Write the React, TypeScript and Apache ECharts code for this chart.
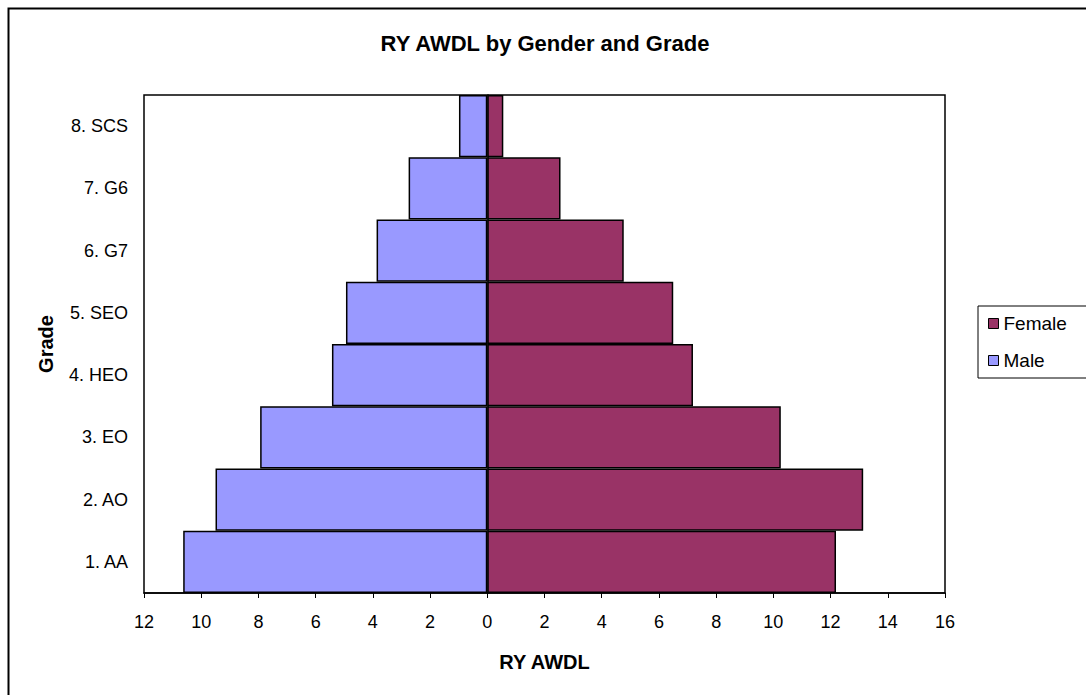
import React, { useEffect, useRef } from "react";
import * as echarts from "echarts";

const categories = ["1. AA", "2. AO", "3. EO", "4. HEO", "5. SEO", "6. G7", "7. G6", "8. SCS"];
const maleValues = [10.63, 9.5, 7.94, 5.43, 4.94, 3.87, 2.75, 0.99];
const femaleValues = [12.19, 13.14, 10.26, 7.19, 6.5, 4.77, 2.56, 0.56];
const xTicks = { min: -12, max: 16, interval: 2 };

const FONT = 'Arial, "Liberation Sans", sans-serif';

export default function App() {
  const ref = useRef<HTMLDivElement>(null);
  useEffect(() => {
    if (!ref.current) return;
    const chart = echarts.init(ref.current, null, { renderer: "svg" });
    chart.setOption({
      animation: false,
      backgroundColor: "#fff",
      textStyle: { fontFamily: FONT, color: "#000" },
      title: {
        text: "RY AWDL by Gender and Grade",
        left: 545,
        textAlign: "center",
        top: 32,
        padding: 0,
        textStyle: { fontFamily: FONT, fontSize: 22, fontWeight: "bold", color: "#000" },
      },
      graphic: [
        {
          type: "rect",
          left: 6,
          top: 6,
          shape: { width: 1200, height: 800 },
          style: { fill: "none", stroke: "#000", lineWidth: 2 },
          z: -1,
          silent: true,
        },
      ],
      legend: {
        data: ["Female", "Male"],
        orient: "vertical",
        left: 978,
        top: 306,
        padding: [8, 40, 8, 10],
        itemGap: 18,
        itemWidth: 10,
        itemHeight: 10,
        icon: "rect",
        borderColor: "#000",
        borderWidth: 1,
        itemStyle: { borderColor: "#000", borderWidth: 1 },
        textStyle: { fontFamily: FONT, fontSize: 19, color: "#000", padding: [0, 0, 0, 0] },
      },
      grid: {
        left: 144,
        right: 141,
        top: 95,
        bottom: 102,
        show: true,
        borderColor: "#000",
        borderWidth: 1.5,
        backgroundColor: "#fff",
      },
      xAxis: {
        type: "value",
        min: xTicks.min,
        max: xTicks.max,
        interval: xTicks.interval,
        name: "RY AWDL",
        nameLocation: "middle",
        nameGap: 59,
        nameTextStyle: { fontFamily: FONT, fontSize: 20, fontWeight: "bold", color: "#000" },
        splitLine: { show: false },
        axisLine: { show: true, onZero: false, lineStyle: { color: "#000", width: 1.5 } },
        axisTick: { show: true, length: 5, lineStyle: { color: "#000" } },
        axisLabel: {
          fontFamily: FONT,
          fontSize: 18,
          color: "#000",
          margin: 20,
          formatter: (v: number) => String(Math.abs(v)),
        },
      },
      yAxis: {
        type: "category",
        data: categories,
        name: "Grade",
        nameLocation: "middle",
        nameGap: 88,
        nameRotate: 90,
        nameTextStyle: { fontFamily: FONT, fontSize: 20, fontWeight: "bold", color: "#000" },
        axisLine: { show: true, lineStyle: { color: "#000", width: 1.5 } },
        axisTick: { show: false },
        axisLabel: { fontFamily: FONT, fontSize: 18, color: "#000", margin: 16 },
      },
      series: [
        {
          name: "Male",
          type: "bar",
          data: maleValues.map((v) => -v),
          barCategoryGap: "0%",
          barGap: "-100%",
          itemStyle: { color: "#9999FF", borderColor: "#000", borderWidth: 1.5 },
        },
        {
          name: "Female",
          type: "bar",
          data: femaleValues,
          barCategoryGap: "0%",
          barGap: "-100%",
          itemStyle: { color: "#993366", borderColor: "#000", borderWidth: 1.5 },
        },
      ],
    });
    return () => chart.dispose();
  }, []);
  return (
    <div
      ref={ref}
      style={{ position: "fixed", left: 0, top: 0, width: 1086, height: 695 }}
    />
  );
}
